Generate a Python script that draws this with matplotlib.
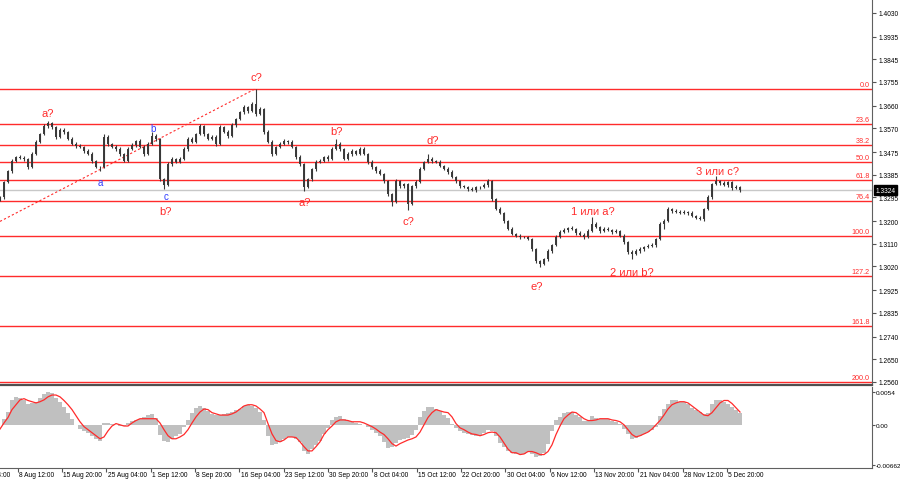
import numpy as np
import matplotlib.pyplot as plt
from matplotlib.transforms import blended_transform_factory

plt.rcParams['font.family'] = ['Liberation Sans', 'DejaVu Sans']

# ---- price data (one plotted bar ~ half a day of H4 bars) ----
first_open = 1.3284
closes = [
    1.3296, 1.3356, 1.3400, 1.3440, 1.3456, 1.3452, 1.3448, 1.3416, 1.3468, 1.3516,
    1.3548, 1.3579, 1.3591, 1.3575, 1.3536, 1.3564, 1.3556, 1.3528, 1.3508, 1.3500,
    1.3496, 1.3480, 1.3468, 1.3440, 1.3416, 1.3416, 1.3536, 1.3508, 1.3496, 1.3488,
    1.3468, 1.3440, 1.3488, 1.3504, 1.3520, 1.3496, 1.3468, 1.3508, 1.3540, 1.3528,
    1.3368, 1.3344, 1.3428, 1.3448, 1.3436, 1.3448, 1.3488, 1.3528, 1.3516, 1.3548,
    1.3579, 1.3548, 1.3528, 1.3536, 1.3508, 1.3575, 1.3556, 1.3540, 1.3583, 1.3607,
    1.3635, 1.3655, 1.3639, 1.3667, 1.3627, 1.3647, 1.3556, 1.3516, 1.3468, 1.3496,
    1.3508, 1.3520, 1.3516, 1.3496, 1.3456, 1.3428, 1.3336, 1.3368, 1.3408, 1.3436,
    1.3440, 1.3456, 1.3448, 1.3488, 1.3508, 1.3488, 1.3448, 1.3468, 1.3480, 1.3468,
    1.3488, 1.3468, 1.3436, 1.3416, 1.3400, 1.3388, 1.3360, 1.3308, 1.3276, 1.3360,
    1.3340, 1.3348, 1.3268, 1.3340, 1.3356, 1.3408, 1.3436, 1.3448, 1.3440, 1.3436,
    1.3420, 1.3408, 1.3396, 1.3376, 1.3360, 1.3340, 1.3336, 1.3328, 1.3324, 1.3336,
    1.3336, 1.3344, 1.3360, 1.3288, 1.3249, 1.3233, 1.3201, 1.3169, 1.3149, 1.3141,
    1.3137, 1.3137, 1.3129, 1.3089, 1.3041, 1.3029, 1.3049, 1.3081, 1.3105, 1.3137,
    1.3157, 1.3165, 1.3173, 1.3169, 1.3153, 1.3145, 1.3137, 1.3161, 1.3189, 1.3177,
    1.3161, 1.3169, 1.3165, 1.3157, 1.3161, 1.3141, 1.3117, 1.3077, 1.3069, 1.3081,
    1.3089, 1.3097, 1.3101, 1.3105, 1.3129, 1.3189, 1.3201, 1.3249, 1.3241, 1.3237,
    1.3233, 1.3237, 1.3233, 1.3221, 1.3213, 1.3209, 1.3249, 1.3296, 1.3348, 1.3360,
    1.3352, 1.3344, 1.3356, 1.3332, 1.3336, 1.3324,
]
# upper / lower shadows in pips
up_wick = [
    4, 6, 5, 7, 5, 8, 6, 5, 7, 6,
    5, 7, 8, 6, 5, 7, 6, 5, 6, 7,
    6, 5, 7, 6, 5, 4, 12, 6, 5, 7,
    6, 5, 7, 6, 5, 8, 6, 7, 16, 6,
    5, 4, 6, 7, 5, 6, 8, 7, 6, 5,
    7, 6, 5, 8, 6, 7, 5, 6, 7, 6,
    6, 7, 5, 8, 60, 7, 5, 6, 7, 5,
    6, 7, 5, 6, 5, 7, 4, 6, 5, 7,
    6, 5, 7, 6, 20, 6, 5, 7, 6, 5,
    6, 7, 5, 6, 5, 6, 5, 4, 5, 7,
    6, 5, 4, 6, 7, 6, 5, 20, 6, 5,
    6, 5, 7, 6, 5, 6, 5, 6, 7, 5,
    6, 7, 8, 5, 4, 6, 5, 5, 6, 5,
    6, 5, 5, 4, 5, 6, 5, 6, 5, 7,
    6, 7, 5, 6, 5, 6, 7, 8, 28, 6,
    5, 6, 7, 5, 6, 5, 6, 5, 6, 7,
    6, 5, 7, 6, 5, 8, 6, 9, 5, 6,
    7, 6, 5, 6, 5, 6, 5, 7, 6, 20,
    6, 7, 5, 6, 7, 6,
]
dn_wick = [
    4, 6, 5, 7, 5, 6, 7, 8, 5, 6,
    6, 5, 7, 6, 8, 5, 7, 6, 5, 7,
    6, 7, 5, 8, 6, 16, 5, 7, 6, 8,
    7, 6, 5, 6, 7, 6, 8, 5, 6, 7,
    6, 14, 5, 7, 6, 5, 6, 7, 5, 6,
    6, 7, 5, 6, 8, 5, 6, 7, 5, 6,
    5, 6, 7, 5, 6, 5, 7, 6, 8, 5,
    6, 5, 7, 6, 8, 7, 16, 5, 6, 7,
    5, 6, 7, 5, 6, 8, 5, 6, 7, 5,
    6, 5, 7, 8, 6, 5, 7, 6, 16, 5,
    6, 7, 23, 5, 6, 5, 6, 5, 7, 6,
    5, 6, 7, 5, 6, 7, 5, 6, 5, 7,
    6, 5, 7, 8, 6, 5, 7, 6, 5, 6,
    7, 6, 5, 7, 6, 12, 5, 7, 6, 5,
    6, 5, 7, 6, 8, 5, 7, 6, 5, 6,
    7, 5, 6, 8, 6, 5, 7, 6, 20, 5,
    6, 7, 5, 6, 7, 5, 20, 6, 7, 5,
    6, 5, 7, 6, 5, 6, 8, 5, 6, 5,
    6, 5, 7, 6, 5, 6,
]

# MACD histogram and signal (x 1e-4)
macd_hist = [
    0, 10, 21, 40, 46, 44, 40, 35, 36, 38,
    44, 51, 54, 53, 44, 38, 30, 20, 10, 0,
    -7, -10, -13, -18, -23, -26, 3, 3, 2, 0,
    -2, -2, 3, 7, 8, 10, 13, 16, 18, 12,
    -16, -26, -28, -23, -18, -15, -3, 8, 20, 28,
    31, 28, 23, 18, 16, 16, 18, 20, 21, 25,
    26, 31, 33, 31, 28, 21, 8, -18, -33, -31,
    -28, -23, -20, -20, -23, -28, -43, -48, -40, -33,
    -26, -15, -5, 8, 13, 15, 10, 7, 5, 3,
    2, 0, -3, -8, -13, -18, -28, -38, -36, -30,
    -25, -23, -21, -16, -8, 13, 23, 30, 30, 26,
    23, 16, 12, 2, -5, -10, -13, -15, -16, -18,
    -16, -13, -8, -10, -18, -30, -36, -43, -46, -48,
    -48, -48, -44, -48, -53, -51, -46, -31, -10, 8,
    13, 20, 21, 21, 16, 13, 7, 7, 15, 12,
    10, 10, 10, 7, 5, 2, -7, -15, -23, -21,
    -18, -15, -12, -8, -3, 15, 26, 35, 40, 40,
    38, 38, 35, 28, 25, 21, 18, 20, 35, 40,
    40, 38, 35, 30, 25, 20,
]
macd_signal = [
    -7, 3, 12, 25, 33, 41, 43, 40, 38, 36,
    38, 41, 46, 49, 49, 46, 40, 33, 25, 15,
    5, -3, -8, -13, -18, -23, -20, -10, -2, 2,
    0, -2, -2, 3, 7, 10, 10, 10, 10, 10,
    3, -8, -18, -23, -23, -20, -16, -8, 3, 13,
    21, 26, 25, 20, 18, 16, 16, 16, 18, 21,
    26, 31, 33, 33, 31, 26, 20, 2, -15, -26,
    -28, -25, -20, -20, -21, -28, -36, -43, -43, -36,
    -28, -16, -8, -2, 5, 8, 8, 7, 5, 5,
    5, 3, 0, -3, -7, -12, -16, -23, -31, -35,
    -31, -28, -25, -23, -20, -12, 0, 12, 20, 25,
    23, 21, 20, 13, 2, -5, -8, -12, -15, -16,
    -18, -16, -13, -12, -13, -20, -30, -40, -46, -46,
    -49, -48, -44, -44, -46, -49, -49, -44, -33, -16,
    -2, 10, 16, 21, 20, 15, 10, 7, 7, 8,
    10, 10, 10, 8, 7, 5, 0, -8, -16, -20,
    -18, -15, -12, -7, 0, 7, 16, 26, 33, 36,
    38, 38, 36, 31, 26, 21, 16, 15, 20, 28,
    36, 40, 40, 35, 28, 21,
]

# Fibonacci grid
fib_high = 1.3727
fib_low = 1.3142
fib_ratios = [0.0, 23.6, 38.2, 50.0, 61.8, 76.4, 100.0, 127.2, 161.8, 200.0]
current_price = 1.3324

# dotted trend line (start bar, price) -> (end bar, price)
trend_x = [0, 63.75]
trend_y = [1.3199, 1.3727]

price_ticks = [1.4030, 1.3935, 1.3845, 1.3755, 1.3660, 1.3570, 1.3475, 1.3385, 1.3295,
               1.3200, 1.3110, 1.3020, 1.2925, 1.2835, 1.2740, 1.2650, 1.2560]
macd_ticks = [0.0054, 0.0, -0.00662]
macd_tick_labels = ['0.0054', '0.00', '-0.00662']
date_labels = ['1 Aug 04:00', '8 Aug 12:00', '15 Aug 20:00', '25 Aug 04:00', '1 Sep 12:00',
               '8 Sep 20:00', '16 Sep 04:00', '23 Sep 12:00', '30 Sep 20:00', '8 Oct 04:00',
               '15 Oct 12:00', '22 Oct 20:00', '30 Oct 04:00', '6 Nov 12:00', '13 Nov 20:00',
               '21 Nov 04:00', '28 Nov 12:00', '5 Dec 20:00']

# wave marks: text, bar, price
red_waves = [('a?', 12, 1.3631), ('c?', 64, 1.3775), ('b?', 41.5, 1.3241),
             ('a?', 76.25, 1.3277), ('b?', 84.25, 1.3560), ('c?', 102, 1.3201),
             ('d?', 108.25, 1.3524), ('e?', 134.25, 1.2942),
             ('1 или a?', 148.25, 1.3241), ('2 или b?', 158, 1.2997),
             ('3 или c?', 179.5, 1.3400)]
blue_waves = [('a', 25, 1.3356), ('b', 38.25, 1.3572), ('c', 41.5, 1.3301)]

RED = '#ff2b2b'
W, H = 900, 485
fig = plt.figure(figsize=(9, 4.85), dpi=100)


def px_axes(x0, y0, x1, y1):
    return fig.add_axes([x0 / W, 1 - y1 / H, (x1 - x0) / W, (y1 - y0) / H])


ax = px_axes(0, 0, 872, 386)
mx = px_axes(0, 388, 872, 469)

n = len(closes)
x = np.arange(n)
c = np.array(closes)
o = np.concatenate([[first_open], c[:-1]])
hi = np.maximum(o, c) + np.array(up_wick) / 10000
lo = np.minimum(o, c) - np.array(dn_wick) / 10000

# fib levels
for r in fib_ratios:
    lvl = fib_high - (fib_high - fib_low) * r / 100
    ax.axhline(lvl, color=RED, lw=1, zorder=1)
    ax.text(217.4, lvl + 0.0004, f'{r:.1f}', color=RED, fontsize=5.2,
            ha='right', va='bottom')

ax.axhline(current_price, color='#c8c8c8', lw=1, zorder=1)
ax.plot(trend_x, trend_y, color=RED, lw=0.8, ls=(0, (2, 2)), zorder=2)

# candles
ax.vlines(x, lo, hi, color='#383838', lw=0.8, zorder=3)
ax.vlines(x, np.minimum(o, c), np.maximum(o, c), color='#383838', lw=1.4, zorder=3)

for t, bx, py in red_waves:
    ax.text(bx, py, t, color=RED, fontsize=8, ha='center', va='center')
for t, bx, py in blue_waves:
    ax.text(bx, py, t, color='#2f3cff', fontsize=7, ha='center', va='center')

ax.set_xticks([])
ax.set_xlim(0, 218)
ax.set_ylim(1.25467, 1.40858)
ax.yaxis.tick_right()
ax.set_yticks(price_ticks)
ax.set_yticklabels([f'{p:.4f}' for p in price_ticks])
ax.tick_params(axis='y', labelsize=4.8, length=3, pad=2, color='#555555')
for s in ['top', 'left']:
    ax.spines[s].set_visible(False)
ax.spines['right'].set_color('#606060')
ax.spines['bottom'].set_color('#505050')
ax.spines['bottom'].set_linewidth(1.6)

tr = blended_transform_factory(ax.transAxes, ax.transData)
ax.text(1.004, current_price, f'{current_price:.4f}', transform=tr, color='white',
        fontsize=4.8, ha='left', va='center', clip_on=False,
        bbox=dict(facecolor='black', edgecolor='black', pad=1.2))

# MACD window
mh = np.array(macd_hist) * 1e-4
ms = np.array(macd_signal) * 1e-4
mx.bar(x, mh, width=1.0, color='#c0c0c0', linewidth=0)
mx.plot(x, ms, color=RED, lw=0.9)
mx.yaxis.tick_right()
mx.set_yticks(macd_ticks)
mx.set_yticklabels(macd_tick_labels)
mx.tick_params(axis='y', labelsize=4.6, length=2, pad=1, color='#555555')
for s in ['top', 'left']:
    mx.spines[s].set_visible(False)
mx.spines['right'].set_color('#606060')
mx.spines['bottom'].set_color('#606060')

# time axis: tick marks on visible dates, labels drawn left-aligned at each tick
first_tick, tick_step = -6.65, 11.08
tick_pos = [first_tick + tick_step * k for k in range(len(date_labels))]
mx.set_xticks([p for p in tick_pos if p >= 0])
mx.set_xticklabels([])
mx.tick_params(axis='x', length=3, color='#555555')
mx.set_xlim(0, 218)
mx.set_ylim(-0.00711, 0.00622)
xtr = blended_transform_factory(mx.transData, mx.transAxes)
for p, lab in zip(tick_pos, date_labels):
    mx.annotate(lab, xy=(p, 0), xycoords=xtr, xytext=(1, -2.5),
                textcoords='offset points', ha='left', va='top',
                fontsize=4.8, annotation_clip=False)

fig.savefig('out.png', dpi=100, facecolor='white')
